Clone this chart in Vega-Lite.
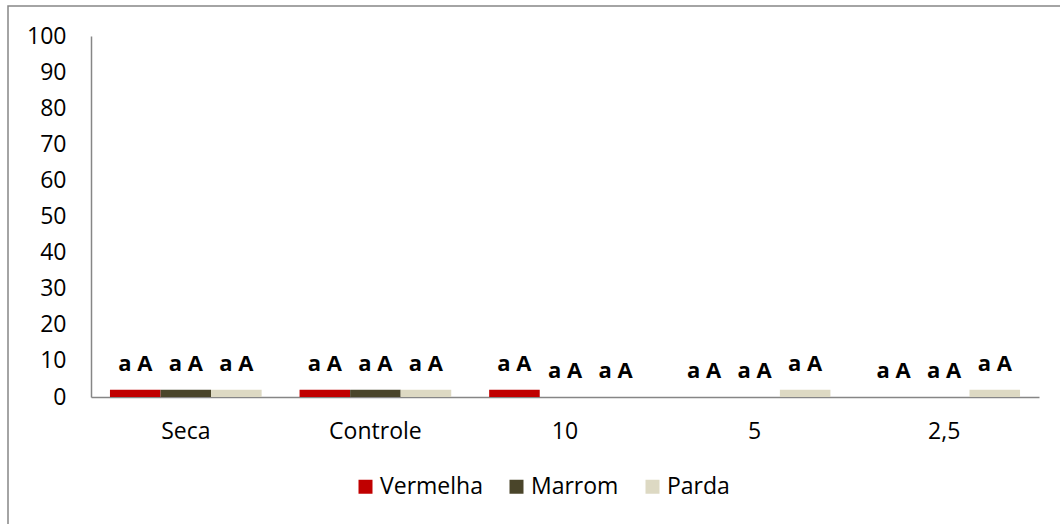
{
  "$schema": "https://vega.github.io/schema/vega-lite/v6.json",
  "width": 1053,
  "height": 519,
  "padding": {"left": 8, "top": 6, "right": 0, "bottom": 0},
  "autosize": {"type": "none"},
  "background": "white",
  "config": {"view": {"stroke": "#868686", "strokeWidth": 1.5}, "font": "Open Sans"},
  "data": {
    "values": [
      {"trat": "Seca", "cor": "Vermelha", "valor": 2, "letra": "a A"},
      {"trat": "Seca", "cor": "Marrom", "valor": 2, "letra": "a A"},
      {"trat": "Seca", "cor": "Parda", "valor": 2, "letra": "a A"},
      {"trat": "Controle", "cor": "Vermelha", "valor": 2, "letra": "a A"},
      {"trat": "Controle", "cor": "Marrom", "valor": 2, "letra": "a A"},
      {"trat": "Controle", "cor": "Parda", "valor": 2, "letra": "a A"},
      {"trat": "10", "cor": "Vermelha", "valor": 2, "letra": "a A"},
      {"trat": "10", "cor": "Marrom", "valor": 0, "letra": "a A"},
      {"trat": "10", "cor": "Parda", "valor": 0, "letra": "a A"},
      {"trat": "5", "cor": "Vermelha", "valor": 0, "letra": "a A"},
      {"trat": "5", "cor": "Marrom", "valor": 0, "letra": "a A"},
      {"trat": "5", "cor": "Parda", "valor": 2, "letra": "a A"},
      {"trat": "2,5", "cor": "Vermelha", "valor": 0, "letra": "a A"},
      {"trat": "2,5", "cor": "Marrom", "valor": 0, "letra": "a A"},
      {"trat": "2,5", "cor": "Parda", "valor": 2, "letra": "a A"}
    ]
  },
  "encoding": {
    "x": {
      "field": "trat",
      "type": "nominal",
      "sort": ["Seca", "Controle", "10", "5", "2,5"],
      "scale": {"paddingInner": 0.2, "paddingOuter": 0.1, "range": [83, 1031]},
      "axis": {
        "title": null,
        "labelAngle": 0,
        "ticks": false,
        "offset": -128,
        "domainColor": "#868686",
        "domainWidth": 1.5,
        "labelFontSize": 23,
        "labelColor": "#000000",
        "labelPadding": 23,
        "labelFont": "Open Sans"
      }
    },
    "xOffset": {
      "field": "cor",
      "type": "nominal",
      "sort": ["Vermelha", "Marrom", "Parda"],
      "scale": {"paddingInner": 0, "paddingOuter": 0}
    },
    "y": {
      "field": "valor",
      "type": "quantitative",
      "scale": {"domain": [0, 100], "nice": false, "range": [391, 30]},
      "axis": {
        "title": null,
        "values": [0, 10, 20, 30, 40, 50, 60, 70, 80, 90, 100],
        "ticks": false,
        "grid": false,
        "offset": -83,
        "domainColor": "#868686",
        "domainWidth": 1.5,
        "labelFontSize": 23,
        "labelColor": "#000000",
        "labelPadding": 25,
        "labelFont": "Open Sans"
      }
    }
  },
  "layer": [
    {
      "mark": {"type": "bar"},
      "encoding": {
        "color": {
          "field": "cor",
          "type": "nominal",
          "scale": {"domain": ["Vermelha", "Marrom", "Parda"], "range": ["#C00000", "#4A452A", "#DDD9C3"]},
          "legend": {
            "title": null,
            "orient": "none",
            "legendX": 346,
            "legendY": 469,
            "direction": "horizontal",
            "symbolType": "square",
            "symbolSize": 196,
            "symbolStrokeWidth": 0,
            "symbolOpacity": 1,
            "labelFontSize": 23,
            "labelFont": "Open Sans",
            "labelColor": "#000000",
            "columnPadding": 22,
            "labelOffset": 3,
            "padding": 0
          }
        }
      }
    },
    {
      "mark": {"type": "text", "fontWeight": "bold", "fontSize": 22, "dy": -19, "baseline": "alphabetic", "font": "Open Sans", "color": "#000000"},
      "encoding": {"text": {"field": "letra"}}
    }
  ]
}
